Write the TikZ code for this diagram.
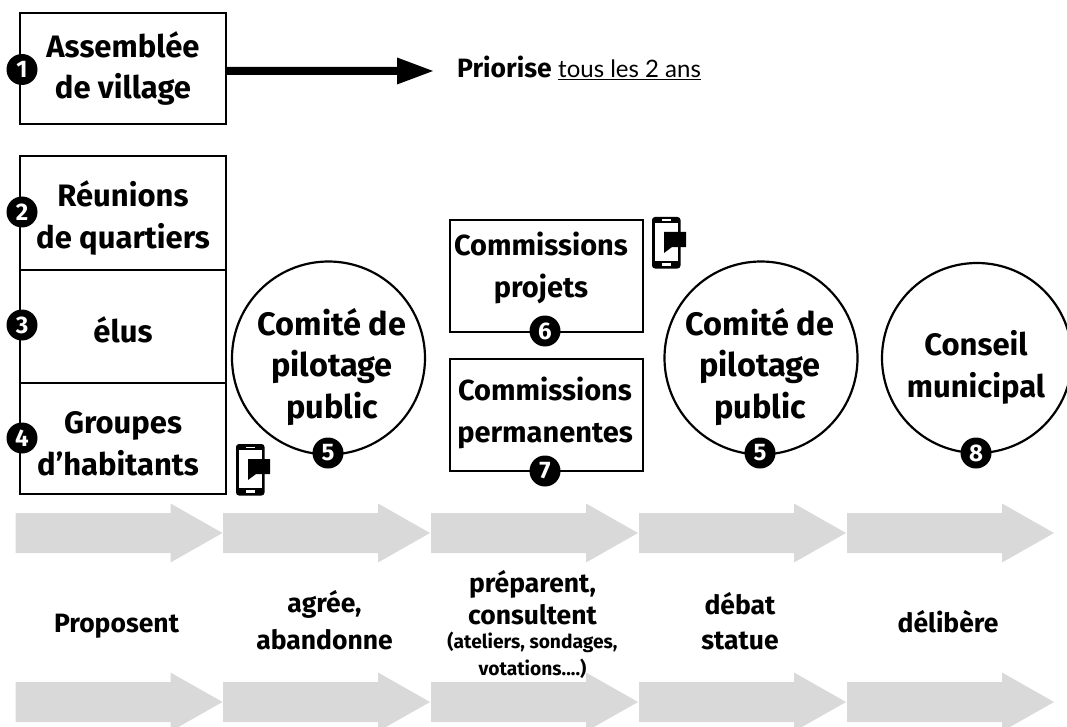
\documentclass[tikz,border=0pt]{standalone}
\usepackage{fontspec}
\setmainfont{Fira Sans}
\newfontfamily\lightf{Lato}
\usetikzlibrary{calc}
\definecolor{band}{HTML}{D9D9D9}
\tikzset{
 x=1pt,y=-1pt,
 box/.style={draw=black,line width=2.4pt,minimum width=206pt,inner sep=0pt},
 title/.style={font=\bfseries\fontsize{31}{41.5}\selectfont,align=center,inner sep=0pt,anchor=base},
 comite/.style={font=\bfseries\fontsize{32.5}{41.5}\selectfont,align=center,inner sep=0pt,anchor=base},
 comm/.style={font=\bfseries\fontsize{29}{41.5}\selectfont,align=center,inner sep=0pt,anchor=base},
 stage/.style={align=center,inner sep=0pt,anchor=base},
 round/.style={draw=black,line width=2.2pt,circle,inner sep=0pt},
 badge/.style={circle,fill=black,text=white,minimum size=31pt,inner sep=0pt,font=\bfseries\fontsize{24}{24}\selectfont},
 band/.style={fill=band},
}
\newcommand{\stagefont}[1]{\bfseries\fontsize{26.5}{#1}\selectfont}
\newcommand{\grayarrow}[2]{%
 \fill[band] (#1,#2-20) -- ++(155,0) -- ++(0,-9.5) -- ++(52,29.5) -- ++(-52,29.5) -- ++(0,-9.5) -- ++(-155,0) -- cycle;}
\newcommand{\phone}[2]{%
 \begin{scope}[shift={(#1,#2)}]
 \fill[black,rounded corners=3pt] (0,0) rectangle (28.5,51.5);
 \fill[white] (3,6) rectangle (25.5,44);
 \fill[white] (10,2.5) rectangle (19,4);
 \fill[white] (10,46) rectangle (19,49);
 \fill[black] (12,15) -- (34,15) -- (34,30) -- (20,30) -- (12,36) -- cycle;
 \end{scope}}
\begin{document}
\begin{tikzpicture}
\useasboundingbox (0,0) rectangle (1067,727);
\begin{scope}
\clip (0,0) rectangle (1067,727);
\node[box,minimum height=111pt] (a) at (123,68.5) {};
\node[box,minimum height=114pt] (b) at (123,213) {};
\node[box,minimum height=113pt] (c) at (123,326.5) {};
\node[box,minimum height=111pt] (d) at (123,438.5) {};
\node[title] at (123,99) {Assemblée\\de village};
\node[title] at (123,248) {Réunions\\de quartiers};
\node[title] at (123,342) {élus};
\node[title] at (123,475) {Groupes\\d’habitants\hspace*{10pt}};
\node[badge] at (22,69.5) {1};
\node[badge] at (22,212) {2};
\node[badge] at (22,325) {3};
\node[badge] at (22,438) {4};
\coordinate (tip) at (433,71);
\fill[black] (a.east |- tip) ++(0,-4) -- (397,67) -- (397,57.5) -- (tip) -- (397,84.5) -- (397,75) -- (a.east |- 0,75) -- cycle;
\node[anchor=base west,inner sep=0pt] (p) at (457,78) {\bfseries\fontsize{26.5}{30}\selectfont Priorise};
\node[anchor=base west,inner sep=0pt] (q) at (558,78) {\lightf\fontsize{24}{28}\selectfont\underline{tous les 2 ans}};
\node[round,minimum size=193pt] (c1) at (328.5,358) {};
\node[comite] at (332,418) {Comité de\\pilotage\\public};
\node[badge] at (328,453) {5};
\node[box,minimum width=193pt,minimum height=112pt] (e) at (546.5,276) {};
\node[box,minimum width=193pt,minimum height=112pt] (f) at (546.5,415) {};
\node[comm] at (541,297) {Commissions\\projets};
\node[comm] at (545,442) {Commissions\\permanentes};
\node[badge] at (545,331) {6};
\node[badge] at (545,471) {7};
\node[round,minimum size=193pt] (c2) at (761,358) {};
\node[comite] at (760,418) {Comité de\\pilotage\\public};
\node[badge] at (760,453) {5};
\node[round,minimum size=190pt] (c3) at (977,358) {};
\node[title] at (976,397) {Conseil\\municipal};
\node[badge] at (976,453) {8};
\phone{236}{444}
\phone{652}{217}
\foreach \xx in {15.5,223,431,639,847}{\grayarrow{\xx}{533}\grayarrow{\xx}{702}}
\node[stage,font=\stagefont{32}] at (116.5,632) {Proposent};
\node[stage,font=\stagefont{37}] at (324.5,649) {agrée,\\abandonne};
\node[stage,font=\stagefont{32}] at (532.5,624) {préparent,\\consultent};
\node[font=\bfseries\fontsize{19.2}{27}\selectfont,align=center,inner sep=0pt,anchor=base] at (532.5,675) {(ateliers, sondages,\\votations....)};
\node[stage,font=\stagefont{35}] at (740,649) {débat\\statue};
\node[stage,font=\stagefont{32}] at (948,632) {délibère};
\end{scope}
\end{tikzpicture}
\end{document}
